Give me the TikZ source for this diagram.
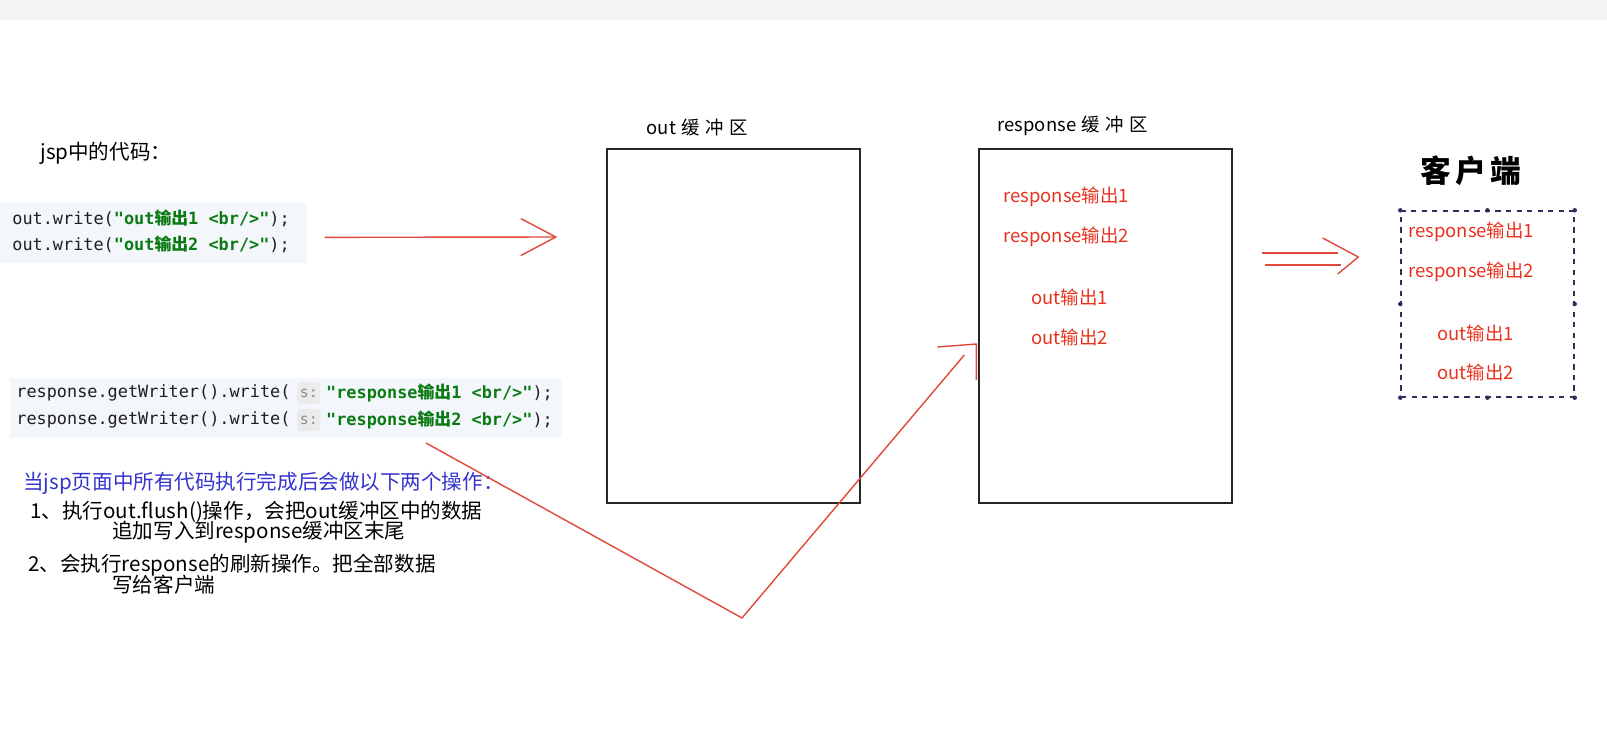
\documentclass[tikz,border=0pt]{standalone}
\usepackage{fontspec}
\newfontfamily\zh{Noto Sans CJK SC}
\setmonofont{DejaVu Sans Mono}
\usepackage{xcolor}
\usepackage{tikz}
\usetikzlibrary{arrows.meta, positioning, calc}
\definecolor{flowred}{HTML}{E0483A}
\definecolor{itemred}{HTML}{E8321E}
\definecolor{codegreen}{HTML}{0B7A12}
\definecolor{noteblue}{HTML}{3434CC}
\definecolor{panelbg}{HTML}{F3F6FB}
\definecolor{handlenavy}{HTML}{2A2F5C}
\newcommand{\strlit}[1]{\textcolor{codegreen}{\bfseries #1}}
\newcommand{\gap}{\hspace{0.3em}}
\tikzset{
  panel/.style={rectangle, fill=panelbg, anchor=north west, minimum height=1.2cm, inner sep=0pt},
  codeline/.style={anchor=west, inner sep=0pt, font=\ttfamily\fontsize{9.6}{11}\selectfont, text=black!88},
  hint/.style={rectangle, rounded corners=2pt, fill=black!8, text=black!45, inner sep=1.5pt, minimum height=0.44cm, font=\ttfamily\fontsize{8.5}{10}\selectfont},
  note/.style={anchor=west, inner sep=0pt, font=\zh\fontsize{11.7}{13}\selectfont},
  buffer/.style={rectangle, draw=black!85, line width=0.8pt, minimum width=5.06cm, minimum height=7.08cm, inner sep=0pt},
  buflabel/.style={inner sep=0pt, font=\zh\fontsize{10.5}{12}\selectfont},
  bufitem/.style={anchor=west, inner sep=0pt, text=itemred, font=\zh\fontsize{10.5}{12}\selectfont},
  client/.style={rectangle, draw=handlenavy, dashed, line width=0.8pt, minimum width=3.46cm, minimum height=3.72cm},
  flowline/.style={draw=flowred, line width=0.8pt, line join=round},
}
\begin{document}
\begin{tikzpicture}[x=0.02cm, y=-0.02cm]
\useasboundingbox (0,0) rectangle (1607,741);
\fill[black!4] (0,0) rectangle (1607,20);

% jsp code on the left
\node[note] (jsptitle) at (40,153) {jsp中的代码：};
\node[panel, minimum width=6.14cm] (panel1) at (0,203) {};
\node[codeline] (code1a) at (12,218) {out.write(\strlit{"out{\zh 输出}1 <br/>"});};
\node[codeline] (code1b) at (12,244) {out.write(\strlit{"out{\zh 输出}2 <br/>"});};

\node[panel, minimum width=11.04cm] (panel2) at (10,378) {};
\node[codeline] (code2a) at (16,393) {response.getWriter().write(};
\node[hint, right=0.12cm of code2a] (hint2a) {s:};
\node[codeline, right=0.1cm of hint2a] (str2a) {\strlit{"response{\zh 输出}1 <br/>"});};
\node[codeline] (code2b) at (16,420) {response.getWriter().write(};
\node[hint, right=0.12cm of code2b] (hint2b) {s:};
\node[codeline, right=0.1cm of hint2b] (str2b) {\strlit{"response{\zh 输出}2 <br/>"});};

% what happens after the page has run
\node[note, text=noteblue] (note0) at (23,483) {当jsp页面中所有代码执行完成后会做以下两个操作：};
\node[note] (note1) at (30,512) {1、执行out.flush()操作，会把out缓冲区中的数据};
\node[note] (note1b) at (112,532) {追加写入到response缓冲区末尾};
\node[note] (note2) at (28,565) {2、会执行response的刷新操作。把全部数据};
\node[note] (note2b) at (112,585) {写给客户端};

% the two buffers
\node[buffer] (outbuf) at (733.5,326) {};
\node[buflabel, above right=0.24cm and 0.8cm of outbuf.north west] (outlabel) {out\gap 缓\gap 冲\gap 区};
\node[buffer] (rspbuf) at (1105.5,326) {};
\node[buflabel, above right=0.24cm and 0.38cm of rspbuf.north west] (rsplabel) {response\gap 缓\gap 冲\gap 区};
\node[bufitem] (rsp1) at (1003,197) {response输出1};
\node[bufitem] (rsp2) at (1003,237) {response输出2};
\node[bufitem] (rsp3) at (1031,297) {out输出1};
\node[bufitem] (rsp4) at (1031,337) {out输出2};

% client
\node[client] (client) at (1487.5,304) {};
\foreach \a in {north west, north, north east, east, south east, south, south west, west}
  \fill[handlenavy] (client.\a) circle (0.045cm);
\node[inner sep=0pt, font=\zh\bfseries\fontsize{17.5}{20}\selectfont] (clienttitle) at (1471,171) {客\hspace{0.15em}户\hspace{0.15em}端};
\node[bufitem] (cli1) at (1408,232) {response输出1};
\node[bufitem] (cli2) at (1408,272) {response输出2};
\node[bufitem] (cli3) at (1437,333) {out输出1};
\node[bufitem] (cli4) at (1437,372) {out输出2};

% arrows
\draw[flowline, -{Straight Barb[length=0.7cm, width=0.74cm]}] ($(panel1.east)+(17,4)$) -- ($(outbuf.west)+(-49,-89)$);
\coordinate (dragstart) at (426,443);
\coordinate (dragbend) at (742,618);
\draw[flowline] (dragstart) -- (dragbend) -- ($(rspbuf.west)+(-14,29)$);
\draw[flowline] ($(rspbuf.west)+(-41,21)$) -- ($(rspbuf.west)+(-2,18)$) -- ($(rspbuf.west)+(-2,54)$);
\draw[flowline] ($(rspbuf.east)+(29,-73)$) -- ++(76,0);
\draw[flowline] ($(rspbuf.east)+(32,-61)$) -- ++(76,0);
\draw[flowline] ($(rspbuf.east)+(90,-88)$) -- ($(client.west)+(-42,-47)$) -- ($(rspbuf.east)+(105,-52)$);
\end{tikzpicture}
\end{document}
